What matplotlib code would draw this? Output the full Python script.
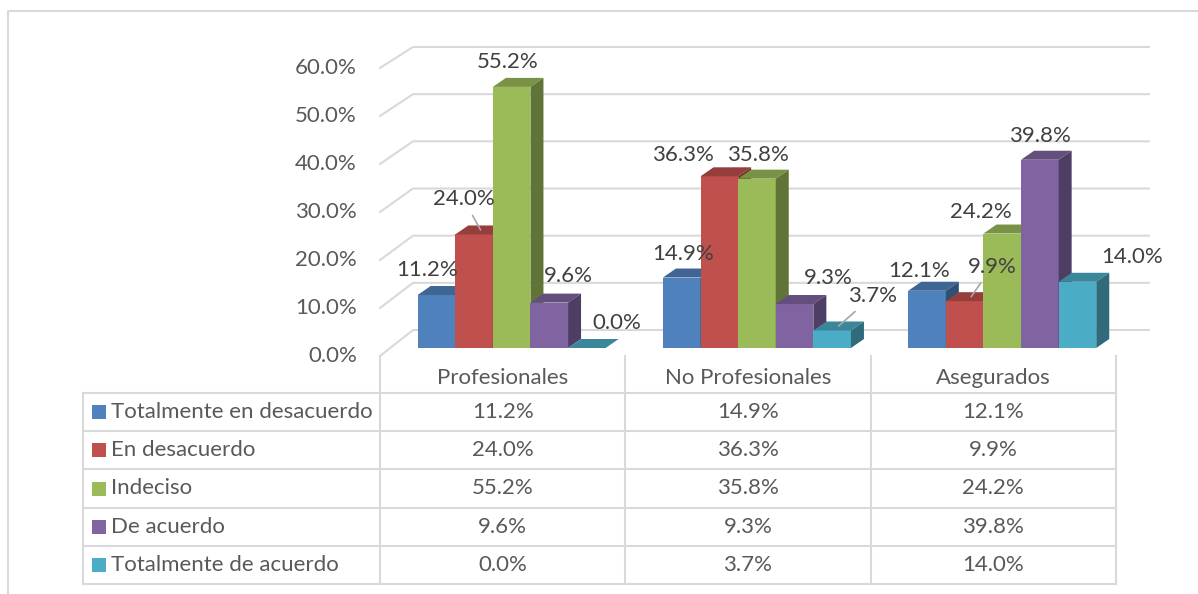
import numpy as np
import matplotlib.pyplot as plt
from matplotlib.patches import Polygon, Rectangle

plt.rcParams['font.family'] = ['Lato', 'DejaVu Sans']

# data
categories = ['Profesionales', 'No Profesionales', 'Asegurados']
series_names = ['Totalmente en desacuerdo', 'En desacuerdo', 'Indeciso',
                'De acuerdo', 'Totalmente de acuerdo']
totalmente_desacuerdo = [11.2, 14.9, 12.1]
en_desacuerdo = [24.0, 36.3, 9.9]
indeciso = [55.2, 35.8, 24.2]
de_acuerdo = [9.6, 9.3, 39.8]
totalmente_acuerdo = [0.0, 3.7, 14.0]
y_ticks = [0, 10, 20, 30, 40, 50, 60]

series_values = [totalmente_desacuerdo, en_desacuerdo, indeciso,
                 de_acuerdo, totalmente_acuerdo]
colors = ['#4F81BD', '#C0504D', '#9BBB59', '#8064A2', '#4BACC6']

# label placement (pixel offsets from bar top, image y down), Excel style
label_offsets = [
    [(-9, -25), (1, -24), (-8, -20)],
    [(-17, -31), (-36, -21), (21, -30)],
    [(-4, -25), (1, -24), (-21, -22)],
    [(19, -27), (34, -26), (0, -24)],
    [(30, -25), (34, -30), (55, -25)],
]
leaders = [(1, 0), (1, 2), (4, 1)]

W_PX, H_PX = 1198, 594
fig = plt.figure(figsize=(W_PX / 100, H_PX / 100), dpi=100)

# background axes in pixel units (walls, table, frame)
bg = fig.add_axes([0, 0, 1, 1])
bg.set_xlim(0, W_PX)
bg.set_ylim(H_PX, 0)
bg.axis('off')

grid_c = '#d9d9d9'
text_c = '#595959'
label_c = '#404040'
fs = 16

# layout of the 3d box
floor_left, col_w = 380, 245.3
depth_dx = 33


def wall_y(v, d):
    # d = 0 front plane, d = 1 back wall
    return (356 - 26 * d) - (4.8 - 0.083 * d) * v


# outer frame
bg.plot([8, 8, W_PX], [H_PX, 11, 11], color=grid_c, lw=1.5, solid_capstyle='butt')

# back wall gridlines + side wall diagonals
back_right = floor_left + col_w * len(categories) + depth_dx
for v in y_ticks:
    bg.plot([floor_left, floor_left + depth_dx, back_right],
            [wall_y(v, 0), wall_y(v, 1), wall_y(v, 1)], color=grid_c, lw=1.5)
    bg.text(357, wall_y(v, 0), f'{v:.1f}%', ha='right', va='center',
            fontsize=fs, color=text_c)

# data table
row_top = 356
head_h, row_h = 37, 38.2
n_rows = len(series_names)
table_bottom = row_top + head_h + row_h * n_rows
table_left = 83
for k in range(len(categories) + 1):
    x = floor_left + col_w * k
    bg.plot([x, x], [row_top, table_bottom], color=grid_c, lw=1.5)
bg.plot([table_left, table_left], [row_top + head_h, table_bottom], color=grid_c, lw=1.5)
for r in range(n_rows + 1):
    y = row_top + head_h + row_h * r
    bg.plot([table_left, floor_left + col_w * len(categories)], [y, y],
            color=grid_c, lw=1.5)

for k, cat in enumerate(categories):
    bg.text(floor_left + col_w * (k + 0.5), row_top + head_h / 2 + 4, cat,
            ha='center', va='center', fontsize=fs, color=text_c)

for r, (name, vals) in enumerate(zip(series_names, series_values)):
    yc = row_top + head_h + row_h * (r + 0.5)
    bg.add_patch(Rectangle((92, yc - 7), 14, 14, color=colors[r], lw=0))
    bg.text(111, yc, name, ha='left', va='center', fontsize=fs, color=text_c)
    for k, v in enumerate(vals):
        bg.text(floor_left + col_w * (k + 0.5), yc, f'{v:.1f}%',
                ha='center', va='center', fontsize=fs, color=text_c)

# bar axes: category units in x, percent in y
base_px, px_per_pct = 348, 4.73
ax_left, ax_right, ax_top = 389, 389 + col_w * 3, 40
ax = fig.add_axes([ax_left / W_PX, (H_PX - base_px) / H_PX,
                   (ax_right - ax_left) / W_PX, (base_px - ax_top) / H_PX])
ax.set_xlim(-0.5, 2.5)
ax.set_ylim(0, (base_px - ax_top) / px_per_pct)
ax.axis('off')

n = len(series_values)
bar_w = 37.6 / col_w
ddx = 13 / col_w          # bar depth in x (category units)
ddy = 9 / px_per_pct      # bar depth in y (percent)
x = np.arange(len(categories))


def shade(c, f):
    rgb = np.array(plt.matplotlib.colors.to_rgb(c))
    return tuple(rgb * f)


for k in range(len(categories)):
    for j in range(n):
        v = series_values[j][k]
        x0 = x[k] + (j - n / 2) * bar_w
        x1 = x0 + bar_w
        ax.bar(x0, v, width=bar_w, align='edge', color=colors[j], lw=0, zorder=3)
        top = [(x0, v), (x1, v), (x1 + ddx, v + ddy), (x0 + ddx, v + ddy)]
        ax.add_patch(Polygon(top, closed=True, color=shade(colors[j], 0.78), lw=0, zorder=3))
        if v > 0:
            side = [(x1, 0), (x1 + ddx, ddy), (x1 + ddx, v + ddy), (x1, v)]
            ax.add_patch(Polygon(side, closed=True, color=shade(colors[j], 0.62), lw=0, zorder=3))

for j in range(n):
    for k in range(len(categories)):
        v = series_values[j][k]
        xc = x[k] + (j - n / 2 + 0.5) * bar_w
        dx, dy = label_offsets[j][k]
        if (j, k) in leaders:
            ax.annotate(f'{v:.1f}%', xy=(xc + ddx / 2, v + ddy / 2),
                        xytext=(dx * 0.72, -dy * 0.72), textcoords='offset points',
                        ha='center', va='center', fontsize=fs, color=label_c,
                        arrowprops=dict(arrowstyle='-', color='#a6a6a6', lw=1.2,
                                        shrinkA=3, shrinkB=0), zorder=5,
                        annotation_clip=False)
        else:
            ax.annotate(f'{v:.1f}%', xy=(xc, v), xytext=(dx * 0.72, -dy * 0.72),
                        textcoords='offset points', ha='center', va='center',
                        fontsize=fs, color=label_c, zorder=5, annotation_clip=False)

plt.savefig('out.png', dpi=100)
